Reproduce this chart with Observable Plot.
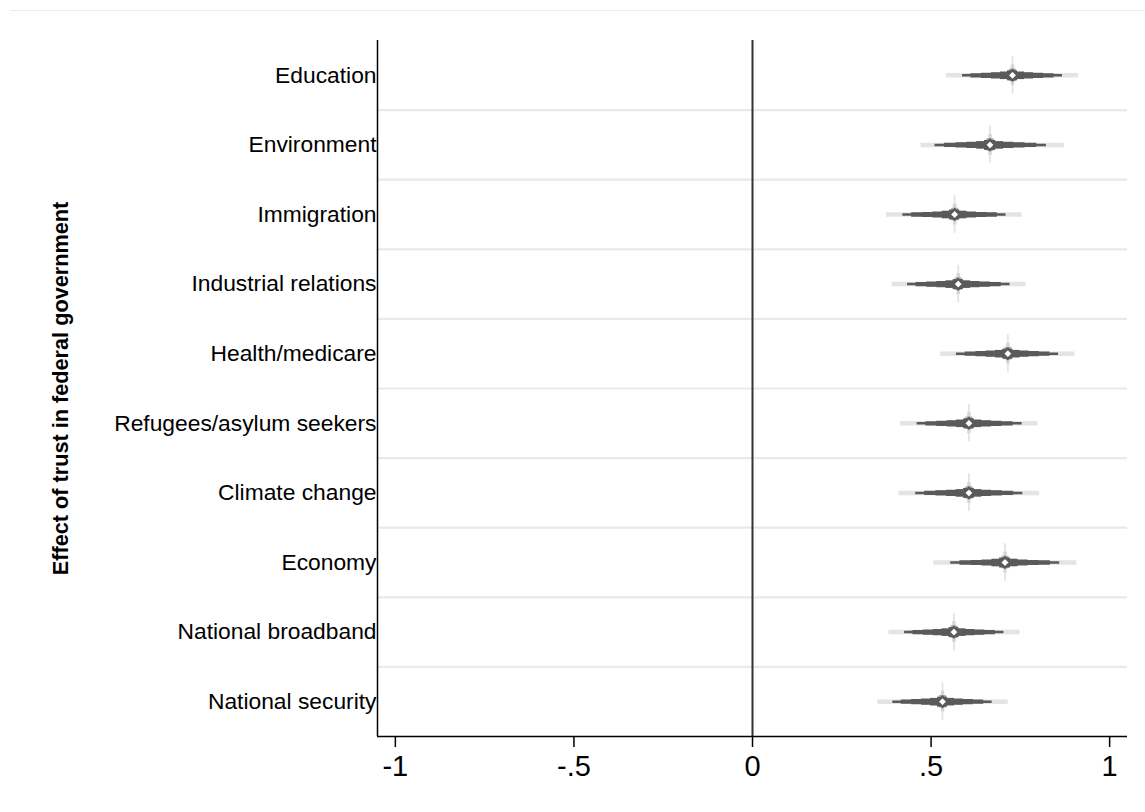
<!DOCTYPE html>
<html>
<head>
<meta charset="utf-8">
<script src="https://cdn.jsdelivr.net/npm/d3@7"></script>
<script src="https://cdn.jsdelivr.net/npm/@observablehq/plot@0.6"></script>
<style>
  html, body { margin: 0; padding: 0; background: #fff; }
  #wrap { position: relative; width: 1145px; height: 812px; }
  #frame { position: absolute; top: 10px; left: 10px; width: 1135px; border-top: 1px solid #ececec; }
  svg { font-family: "Liberation Sans", Arial, sans-serif; }
</style>
</head>
<body>
<div id="wrap"><div id="frame"></div></div>
<script>
// Categories (top to bottom)
const categories = ["Education", "Environment", "Immigration", "Industrial relations", "Health/medicare",
  "Refugees/asylum seekers", "Climate change", "Economy", "National broadband", "National security"];
// Point estimates
const estimates = [0.728, 0.665, 0.566, 0.576, 0.715, 0.606, 0.606, 0.707, 0.564, 0.532];
// Inner (dark) confidence interval
const ciDarkLo = [0.588, 0.511, 0.421, 0.434, 0.571, 0.461, 0.457, 0.555, 0.426, 0.393];
const ciDarkHi = [0.868, 0.823, 0.710, 0.721, 0.857, 0.755, 0.757, 0.860, 0.704, 0.671];
// Outer (light) confidence interval
const ciLightLo = [0.543, 0.472, 0.375, 0.391, 0.527, 0.415, 0.410, 0.508, 0.382, 0.351];
const ciLightHi = [0.913, 0.873, 0.755, 0.766, 0.903, 0.800, 0.804, 0.908, 0.749, 0.716];
// Axis ticks
const xTicks = [-1, -0.5, 0, 0.5, 1];
const xTickLabels = ["-1", "-.5", "0", ".5", "1"];
const yTitle = "Effect of trust in federal government";

const data = categories.map((c, i) => ({
  i, cat: c, est: estimates[i],
  dlo: ciDarkLo[i], dhi: ciDarkHi[i], llo: ciLightLo[i], lhi: ciLightHi[i]
}));

const dark = "#5a5a5a";
const spindle = [[0.83, 4.3], [0.62, 5.2], [0.42, 6.2], [0.24, 7.6], [0.1, 10]];

const marks = [
  // separators between rows
  Plot.ruleY(d3.range(categories.length - 1).map(i => i + 0.5), {stroke: "#e9e9e9", strokeWidth: 2.2, x1: -1.047, x2: 1.05}),
  // light outer CI
  Plot.ruleY(data, {y: "i", x1: "llo", x2: "lhi", stroke: "#e4e4e4", strokeWidth: 4.5}),
  // dark thin CI
  Plot.ruleY(data, {y: "i", x1: "dlo", x2: "dhi", stroke: dark, strokeWidth: 2.5}),
  // vertical glow at estimate
  Plot.ruleX(data, {x: "est", y1: d => d.i - 0.27, y2: d => d.i + 0.27, stroke: "#e4e4e4", strokeWidth: 1.8}),
  Plot.ruleX(data, {x: "est", y1: d => d.i - 0.15, y2: d => d.i + 0.15, stroke: "#d6d6d6", strokeWidth: 3.5}),
  Plot.ruleX(data, {x: "est", y1: d => d.i - 0.09, y2: d => d.i + 0.09, stroke: "#b0b0b0", strokeWidth: 7}),
  // tapered spindle
  ...spindle.map(([f, w]) => Plot.ruleY(data, {
    y: "i",
    x1: d => d.est - f * (d.est - d.dlo),
    x2: d => d.est + f * (d.dhi - d.est),
    stroke: dark, strokeWidth: w
  })),
  // zero line
  Plot.ruleX([0], {stroke: "#333", strokeWidth: 2}),
  // axis lines
  Plot.ruleX([-1.05], {stroke: "#000", strokeWidth: 1.5}),
  Plot.ruleY([categories.length - 0.5], {stroke: "#000", strokeWidth: 1.5}),
  // markers
  Plot.dot(data, {x: "est", y: "i", symbol: "diamond2", r: 4.6, fill: "#fff", stroke: dark, strokeWidth: 2.4}),
  // axes
  Plot.axisX({ticks: xTicks, tickFormat: d => xTickLabels[xTicks.indexOf(d)], tickSize: 11, tickPadding: 8,
    fontSize: 29, stroke: "#000", strokeWidth: 1.5, fill: "#000", label: null}),
  Plot.axisY({ticks: d3.range(categories.length), tickFormat: i => categories[i], tickSize: 0, tickPadding: 1,
    fontSize: 22.8, fill: "#000", label: null}),
  Plot.text([yTitle], {frameAnchor: "left", dx: -316, rotate: -90, textAnchor: "middle", fontSize: 21.7, fontWeight: "bold", fill: "#000"})
];

const chart = Plot.plot({
  width: 1145,
  height: 812,
  marginLeft: 377,
  marginRight: 18,
  marginTop: 40,
  marginBottom: 76,
  style: {background: "transparent", overflow: "visible", fontFamily: "Liberation Sans, Arial, sans-serif"},
  x: {domain: [-1.05, 1.05]},
  y: {domain: [-0.5, categories.length - 0.5], reverse: true},
  marks
});
document.getElementById("wrap").appendChild(chart);
chart.style.position = "absolute";
chart.style.left = "0";
chart.style.top = "0";
</script>
</body>
</html>
